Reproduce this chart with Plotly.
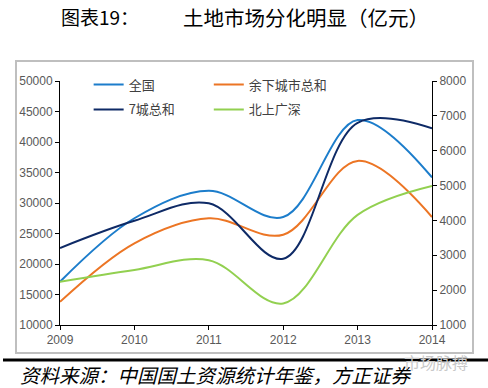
import plotly.graph_objects as go

years = [2009, 2010, 2011, 2012, 2013, 2014]
national = [17100, 27500, 32000, 27700, 43600, 34200]          # 全国 (left axis)
rest_cities = [13800, 23400, 27500, 24800, 36900, 27700]       # 余下城市总和 (left axis)
seven_cities = [3210, 3990, 4490, 2900, 6800, 6640]            # 7城总和 (right axis)
tier1 = [2240, 2580, 2860, 1620, 4160, 4990]                   # 北上广深 (right axis)

left_ticks = [10000, 15000, 20000, 25000, 30000, 35000, 40000, 45000, 50000]
right_ticks = [1000, 2000, 3000, 4000, 5000, 6000, 7000, 8000]

title_left = "图表19："
title_right = "土地市场分化明显（亿元）"
source_text = "资料来源：中国国土资源统计年鉴，方正证券"
watermark = "市场脉搏"

fig = go.Figure()
fig.add_trace(go.Scatter(x=years, y=national, name="全国", mode="lines", legendgroup="a",
                         line=dict(color="#1C7DCB", width=2, shape="spline", smoothing=1),
                         legend="legend"))
fig.add_trace(go.Scatter(x=years, y=rest_cities, name="余下城市总和", mode="lines", legendgroup="b",
                         line=dict(color="#EC7524", width=2, shape="spline", smoothing=1),
                         legend="legend2"))
fig.add_trace(go.Scatter(x=years, y=seven_cities, name="7城总和", mode="lines", yaxis="y2",
                         legendgroup="c",
                         line=dict(color="#0E2A66", width=2, shape="spline", smoothing=1),
                         legend="legend"))
fig.add_trace(go.Scatter(x=years, y=tier1, name="北上广深", mode="lines", yaxis="y2",
                         legendgroup="d",
                         line=dict(color="#92D050", width=2, shape="spline", smoothing=1),
                         legend="legend2"))

tickfont = dict(family="Liberation Sans, Arial, sans-serif", size=12, color="#595959")
legfont = dict(family="Noto Sans CJK SC", size=13, color="#404040")
fig.update_layout(
    width=488, height=388,
    margin=dict(l=60, r=56, t=81, b=63),
    paper_bgcolor="white", plot_bgcolor="white",
    xaxis=dict(range=[2009, 2014], tickvals=years, tickformat="d", ticks="outside", ticklen=4,
               tickcolor="black", showline=True, linecolor="black", linewidth=1,
               showgrid=False, zeroline=False, tickfont=tickfont, fixedrange=True),
    yaxis=dict(range=[10000, 50000], tickvals=left_ticks, tickformat="d", ticks="outside",
               ticklen=4, tickcolor="black", showline=True, linecolor="black", linewidth=1,
               showgrid=False, zeroline=False, tickfont=tickfont),
    yaxis2=dict(range=[1000, 8000], tickvals=right_ticks, tickformat="d", overlaying="y",
                side="right", ticks="outside", ticklen=4, tickcolor="black", showline=True,
                linecolor="black", linewidth=1, showgrid=False, zeroline=False,
                tickfont=tickfont),
    legend=dict(x=0.077, y=1.047, xanchor="left", yanchor="top", bgcolor="rgba(0,0,0,0)",
                font=legfont, tracegroupgap=5, itemwidth=30),
    legend2=dict(x=0.4, y=1.047, xanchor="left", yanchor="top", bgcolor="rgba(0,0,0,0)",
                 font=legfont, tracegroupgap=5, itemwidth=30),
    showlegend=True,
)

# outer chart frame
fig.add_shape(type="rect", xref="paper", yref="paper",
              x0=(16 - 60) / 372, x1=(473 - 60) / 372,
              y0=(325 - 353) / 244, y1=(325 - 61) / 244,
              line=dict(color="#BFBFBF", width=2), layer="below")
# thick black separator line
fig.add_shape(type="line", xref="paper", yref="paper",
              x0=(3 - 60) / 372, x1=(488 - 60) / 372,
              y0=(325 - 360) / 244, y1=(325 - 360) / 244,
              line=dict(color="black", width=3))

fig.add_annotation(text=title_left, xref="paper", yref="paper",
                   x=(59 - 60) / 372, y=(325 - 17) / 244, xanchor="left", yanchor="middle",
                   showarrow=False, font=dict(family="Noto Sans CJK SC", size=19, color="black"))
fig.add_annotation(text=title_right, xref="paper", yref="paper",
                   x=(181 - 60) / 372, y=(325 - 17) / 244, xanchor="left", yanchor="middle",
                   showarrow=False, font=dict(family="Noto Sans CJK SC", size=20.5, color="black"))
fig.add_annotation(text="<i>" + source_text + "</i>", xref="paper", yref="paper",
                   x=(19 - 60) / 372, y=(325 - 374) / 244, xanchor="left", yanchor="middle",
                   showarrow=False, borderpad=0,
                   font=dict(family="Noto Sans CJK SC", size=19.5, color="black"))
fig.add_annotation(text=watermark, xref="paper", yref="paper",
                   x=(470 - 60) / 372, y=(325 - 362) / 244, xanchor="right", yanchor="middle",
                   showarrow=False, font=dict(family="Noto Sans CJK SC", size=16, color="#C8C8C8"))

fig.write_html("out.html", config={"displayModeBar": False},
               post_script="document.body.style.margin='0';")
